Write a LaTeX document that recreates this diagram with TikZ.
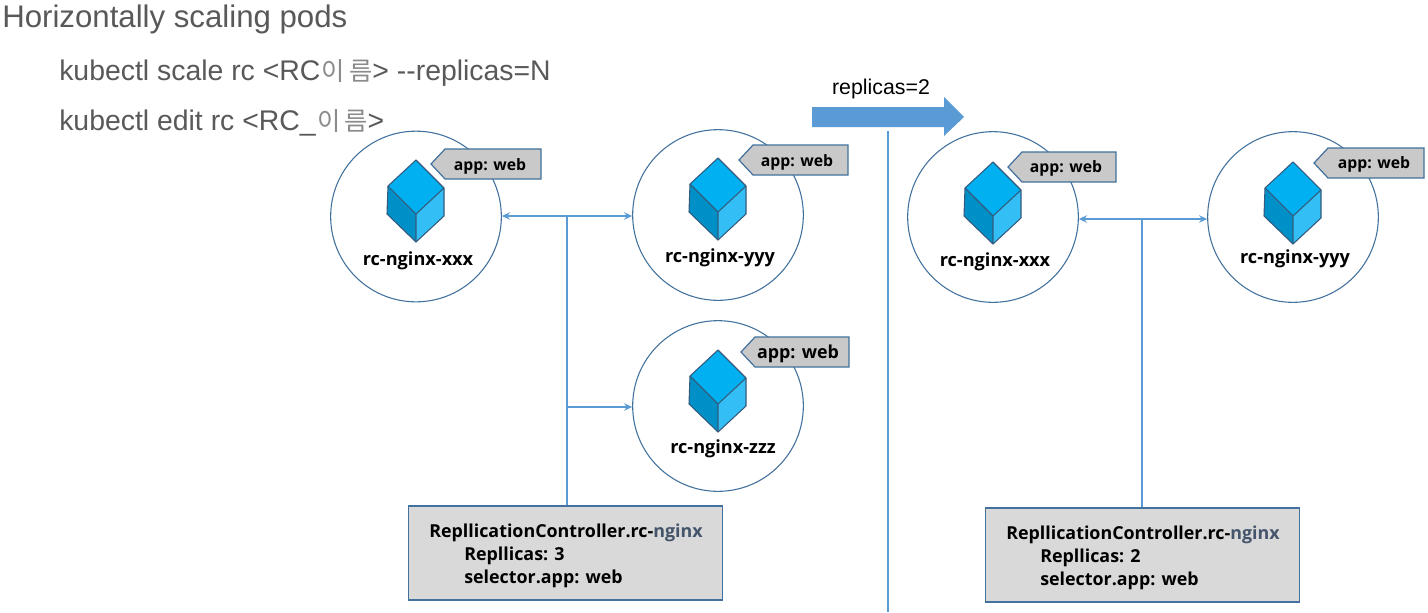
\documentclass[tikz,border=0pt]{standalone}
\usepackage{fontspec}
\setmainfont{Liberation Sans}
\newfontfamily\kofont{Noto Sans CJK KR}
\newfontfamily\lblfont{Open Sans}
\usetikzlibrary{arrows.meta}
\definecolor{headtxt}{HTML}{595959}
\definecolor{linkblue}{HTML}{5B9BD5}
\definecolor{edgeblue}{HTML}{41719C}
\definecolor{cubetop}{HTML}{00B0F0}
\definecolor{cubeleft}{HTML}{0090C8}
\definecolor{cuberight}{HTML}{33BFF5}
\definecolor{tagfill}{HTML}{C9C9C9}
\definecolor{boxfill}{HTML}{D9D9D9}
\definecolor{navytxt}{HTML}{44546A}
\tikzset{
  x=0.75pt,y=-0.75pt,
  podcircle/.style={circle,draw=edgeblue,line width=0.8pt,fill=white,inner sep=0pt,minimum size=128pt},
  podlabel/.style={font=\lblfont\bfseries\fontsize{13.6pt}{16pt}\selectfont,inner sep=0pt,text=black},
  taglabel/.style={font=\lblfont\bfseries\fontsize{11.8pt}{14pt}\selectfont,inner sep=0pt,text=black},
  biglabel/.style={font=\lblfont\bfseries\fontsize{13.4pt}{16pt}\selectfont,inner sep=0pt,text=black},
  rcbox/.style={rectangle,draw=edgeblue,line width=0.9pt,fill=boxfill,inner sep=0pt,minimum width=236pt,minimum height=70.5pt},
  rctext/.style={font=\lblfont\bfseries\fontsize{13.4pt}{16pt}\selectfont,inner sep=0pt,anchor=base west,text=black},
  head/.style={text=headtxt,inner sep=0pt,anchor=base west},
  link/.style={draw=linkblue,line width=1.5pt},
  linkarrow/.style={link,-{Stealth[length=6pt,width=5.5pt]}},
  linkboth/.style={link,{Stealth[length=6pt,width=5.5pt]}-{Stealth[length=6pt,width=5.5pt]}},
  cubeedge/.style={draw=edgeblue!80!black,line width=0.8pt,line join=round},
  tagshape/.style={fill=tagfill,draw=edgeblue,line width=0.9pt}
}
% #1 name, #2 cx, #3 cy, #4 cube cx, #5 cube top y, #6 tag tip x, #7 tag right x, #8 tag top y
\newcommand{\podfig}[8]{%
  \node[podcircle] (#1) at (#2,#3) {};
  \fill[cubetop] (#4,#5) -- (#4+28,#5+28) -- (#4,#5+54) -- (#4-28,#5+26) -- cycle;
  \fill[cubeleft] (#4-28,#5+26) -- (#4,#5+54) -- (#4,#5+82) -- (#4-29,#5+54) -- cycle;
  \fill[cuberight] (#4+28,#5+28) -- (#4,#5+54) -- (#4,#5+82) -- (#4+28,#5+56) -- cycle;
  \draw[cubeedge] (#4,#5) -- (#4+28,#5+28) -- (#4+28,#5+56) -- (#4,#5+82) -- (#4-29,#5+54) -- (#4-28,#5+26) -- cycle;
  \draw[cubeedge] (#4-28,#5+26) -- (#4,#5+54) -- (#4+28,#5+28) (#4,#5+54) -- (#4,#5+82);
  \draw[tagshape] (#6,#8+15) -- (#6+14,#8) -- (#7,#8) -- (#7,#8+30) -- (#6+14,#8+30) -- cycle;
}
\newcommand{\kotxt}[1]{{\kofont\color{headtxt!70}\fontsize{19pt}{22pt}\selectfont #1}}
\begin{document}
\begin{tikzpicture}
\useasboundingbox (0,0) rectangle (1428,612);
\fill[white] (0,0) rectangle (1428,612);

% heading
\node[head,font=\fontsize{23.4pt}{28pt}\selectfont] (title) at (2,27) {Horizontally scaling pods};
\node[head,font=\fontsize{21.3pt}{25pt}\selectfont] (cmda) at (59,80) {kubectl scale rc <RC\hspace{1pt}\kotxt{이\hspace{3pt}름}> -{}-replicas=N};
\node[head,font=\fontsize{21.3pt}{25pt}\selectfont] (cmdb) at (59,130) {kubectl edit rc <RC\_\hspace{1pt}\kotxt{이\hspace{3pt}름}>};

% pods
\podfig{pa}{416}{216.5}{416}{160}{431}{541}{149}
\podfig{pb}{718}{215}{718}{158}{739}{848}{145}
\podfig{pc}{718}{406}{718}{350}{741}{849}{337}
\podfig{pd}{993}{217}{993}{162}{1008}{1116}{152}
\podfig{pe}{1293}{217}{1293}{162}{1314}{1424}{148}

\node[taglabel] (pat) at (490,166.5) {app: web};
\node[taglabel] (pbt) at (797,162.5) {app: web};
\node[biglabel] (pct) at (798,353.5) {app: web};
\node[taglabel] (pdt) at (1066,168.5) {app: web};
\node[taglabel] (pet) at (1374,164.5) {app: web};
\node[podlabel] (pal) at (418,260.5) {rc-nginx-xxx};
\node[podlabel] (pbl) at (720,257.5) {rc-nginx-yyy};
\node[podlabel] (pcl) at (723,449) {rc-nginx-zzz};
\node[podlabel] (pdl) at (995,262) {rc-nginx-xxx};
\node[podlabel] (pel) at (1295,258.5) {rc-nginx-yyy};

% controller boxes
\node[rcbox] (rca) at (565.5,553) {};
\node[rcbox] (rcb) at (1142.5,555) {};
\node[rctext] (rcat) at (429,537) {RepllicationController.rc-{\color{navytxt}nginx}};
\node[rctext] (rcar) at (464,560) {Repllicas: 3};
\node[rctext] (rcas) at (464,583) {selector.app: web};
\node[rctext] (rcbt) at (1006,539) {RepllicationController.rc-{\color{navytxt}nginx}};
\node[rctext] (rcbr) at (1040,562) {Repllicas: 2};
\node[rctext] (rcbs) at (1040,585) {selector.app: web};

% connectors
\coordinate (ja) at (567,216);
\coordinate (jc) at (567,407);
\coordinate (jb) at (1142,219);
\draw[linkboth] (pa.east |- ja) -- (pb.west |- ja);
\draw[link] (ja) -- (ja |- rca.north);
\draw[linkarrow] (jc) -- (pc.west |- jc);
\draw[linkboth] (pd.east |- jb) -- (pe.west |- jb);
\draw[link] (jb) -- (jb |- rcb.north);

% divider and big arrow
\coordinate (divtop) at (888,131);
\coordinate (divbot) at (888,612);
\draw[link] (divtop) -- (divbot);
\fill[linkblue] (812,107) -- (944,107) -- (944,97) -- (964,117) -- (944,136) -- (944,127) -- (812,127) -- cycle;
\node[font=\fontsize{16pt}{18pt}\selectfont,inner sep=0pt,text=black] (rep) at (881,89) {replicas=2};
\end{tikzpicture}
\end{document}
